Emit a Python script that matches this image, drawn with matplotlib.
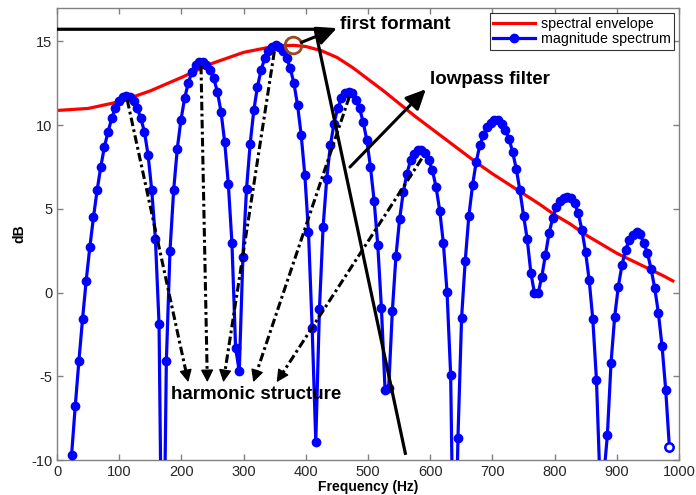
import numpy as np
import matplotlib
matplotlib.use("Agg")
import matplotlib.pyplot as plt

plt.rcParams['font.family'] = ['Liberation Sans', 'DejaVu Sans']
plt.rcParams['axes.unicode_minus'] = False

# FFT grid of the magnitude spectrum
BIN_HZ = 5.86
FIRST_BIN = 4

# magnitude spectrum (dB), one value per FFT bin starting at FIRST_BIN
spectrum_db = [
    -9.7, -6.8, -4.1, -1.6, 0.7, 2.7, 4.5, 6.1, 7.5, 8.7, 9.6, 10.4, 11.05,
    11.45, 11.7, 11.75, 11.7, 11.45, 11.05, 10.4, 9.6, 8.2, 6.1, 3.2, -1.9, -22.0,
    -4.1, 2.5, 6.1, 8.6, 10.3, 11.6, 12.5, 13.2, 13.6, 13.8, 13.8, 13.6, 13.3,
    12.8, 12.0, 10.8, 9.0, 6.5, 2.95, -3.3, -4.7,
    2.1, 6.2, 8.9, 10.9, 12.3, 13.3, 14.0, 14.45, 14.7, 14.8, 14.7, 14.45, 14.0,
    13.4, 12.5, 11.2, 9.4, 7.0, 3.6, -2.1, -8.9,
    -1.0, 3.9, 6.8, 8.8, 10.1, 11.0, 11.6, 11.9, 12.0, 11.9, 11.5, 11.0, 10.2,
    9.1, 7.5, 5.5, 2.85, -0.9, -5.8, -5.7,
    -1.1, 2.2, 4.4, 6.0, 7.1, 7.9, 8.3, 8.5, 8.5, 8.35, 7.9, 7.3, 6.3, 4.9,
    2.95, 0.06, -4.9, -20.0,
    -8.7, -1.5, 1.9, 4.6, 6.4, 7.8, 8.8, 9.4, 9.9, 10.15, 10.3, 10.3, 10.1, 9.7,
    9.2, 8.4, 7.4, 6.1, 4.6, 3.2, 1.2, -0.05,
    -0.05, 0.95, 2.25, 3.55, 4.45, 5.14, 5.45, 5.65, 5.74, 5.64, 5.34, 4.75,
    3.75, 2.45, 0.76, -1.6, -5.2, -11.5, -11.0,
    -8.5, -4.2, -1.44, 0.36, 1.65, 2.55, 3.15, 3.45, 3.6, 3.5, 2.95, 2.35, 1.4,
    0.26, -1.23, -3.2, -5.8, -9.2,
]
freq_hz = (np.arange(len(spectrum_db)) + FIRST_BIN) * BIN_HZ

# smooth spectral envelope (dB)
env_freq = [0, 50, 100, 150, 200, 250, 300, 350, 380, 400, 425, 450, 475, 500,
            525, 550, 575, 600, 625, 650, 675, 700, 725, 750, 775, 800, 825,
            850, 875, 900, 925, 950, 975, 990]
env_db = [10.88, 11.0, 11.4, 12.05, 12.85, 13.7, 14.35, 14.72, 14.77, 14.7,
          14.45, 14.05, 13.45, 12.75, 12.05, 11.3, 10.55, 9.85, 9.15, 8.45,
          7.75, 7.1, 6.5, 5.9, 5.3, 4.65, 4.1, 3.45, 2.9, 2.35, 1.9, 1.45, 1.0,
          0.7]

# first formant position
formant = (380, 14.77)

# idealised lowpass response sketched over the spectrum
lowpass_x = [0, 415, 560]
lowpass_y = [15.73, 15.73, -9.6]

# harmonic peaks and where their arrows point
harm_start = [(113, 11.5), (231.5, 13.55), (349.4, 14.4), (470, 11.7), (586.3, 8.0)]
harm_tip = [(211, -5.35), (241.7, -5.35), (267.4, -5.35), (315.6, -5.35), (353.2, -5.35)]

fig = plt.figure(figsize=(6.96, 4.95), dpi=100)
ax = fig.add_axes([57 / 696, 1 - 460 / 495, (679 - 57) / 696, (460 - 8) / 495])
ax.set_xlim(0, 1000)
ax.set_ylim(-10, 17)

ax.plot(env_freq, env_db, color='red', lw=2.3, label='spectral envelope', zorder=2)
ax.plot(freq_hz, spectrum_db, color='blue', lw=2.3, marker='o', ms=6,
        label='magnitude spectrum', zorder=3)
ax.plot(freq_hz[-1], spectrum_db[-1], 'o', ms=6, mfc='white', mec='blue',
        mew=1.8, zorder=4)

# lowpass sketch
ax.plot(lowpass_x, lowpass_y, color='black', lw=2.3, solid_joinstyle='miter',
        zorder=5)

# formant marker
ax.plot(*formant, 'o', ms=12, mfc='none', mec='#A0461E', mew=2, zorder=6)


def dashdot_arrow(start, tip, head_px=10):
    p0 = ax.transData.transform(start)
    p1 = ax.transData.transform(tip)
    d = (p1 - p0) / np.hypot(*(p1 - p0))
    base = ax.transData.inverted().transform(p1 - d * head_px)
    ax.plot([start[0], base[0]], [start[1], base[1]], color='black', lw=2.2,
            linestyle=(0, (2.8, 1.1, 0.9, 1.1)), zorder=5)
    ax.annotate('', xy=tip, xytext=tuple(base),
                arrowprops=dict(arrowstyle='-|>,head_length=0.75,head_width=0.38',
                                mutation_scale=10, color='black', lw=1,
                                shrinkA=0, shrinkB=0), zorder=5)


for s, t in zip(harm_start, harm_tip):
    dashdot_arrow(s, t)

solid_head = dict(arrowstyle='-|>,head_length=0.8,head_width=0.38',
                  mutation_scale=15, color='black', lw=2.2, shrinkA=0, shrinkB=0)
ax.annotate('', xy=(450, 15.8), xytext=(393, 14.95), arrowprops=solid_head, zorder=6)
ax.annotate('', xy=(593, 12.15), xytext=(471, 7.5), arrowprops=solid_head, zorder=6)

ax.text(455, 16.0, 'first formant', fontsize=13.5, fontweight='bold',
        ha='left', va='center')
ax.text(599, 12.7, 'lowpass filter', fontsize=13.5, fontweight='bold',
        ha='left', va='center')
ax.text(184, -6.1, 'harmonic structure', fontsize=13.5, fontweight='bold',
        ha='left', va='center')

ax.set_xticks(np.arange(0, 1001, 100))
ax.set_yticks([-10, -5, 0, 5, 10, 15])
ax.tick_params(direction='in', length=4.5, width=1, color='#808080',
               labelsize=10.5, labelcolor='#262626', top=True, right=True, pad=3.5)
for sp in ax.spines.values():
    sp.set_color('#808080')
    sp.set_linewidth(1)

ax.set_xlabel('Frequency (Hz)', fontsize=10, fontweight='bold', labelpad=1)
ax.set_ylabel('dB', fontsize=10, fontweight='bold', labelpad=3)

leg = ax.legend(loc='upper right', fontsize=10.3, frameon=True, fancybox=False,
                edgecolor='black', handlelength=2.9, borderpad=0.25,
                labelspacing=0.1, handletextpad=0.4, borderaxespad=0.35)
leg.get_frame().set_linewidth(0.8)

fig.savefig('out.png', dpi=100)
